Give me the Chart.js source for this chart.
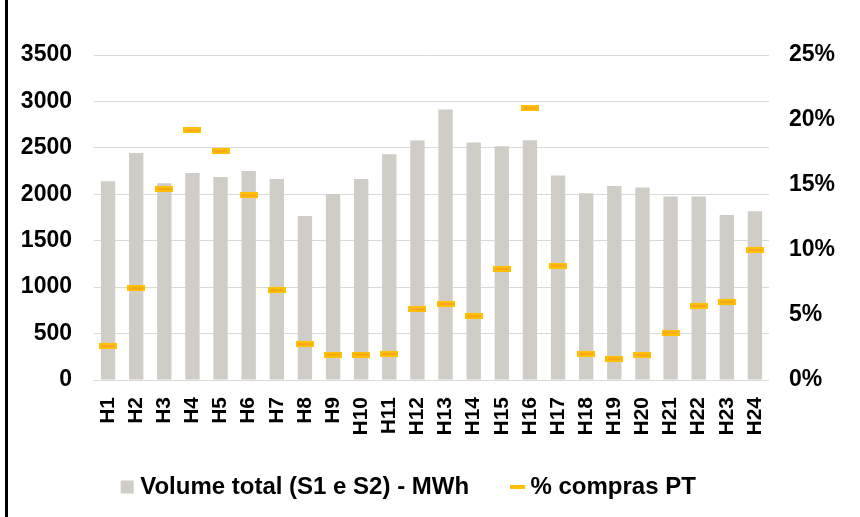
<!DOCTYPE html>
<html>
<head>
<meta charset="utf-8">
<script src="https://cdn.jsdelivr.net/npm/chart.js@4.4.1/dist/chart.umd.min.js"></script>
<style>
  html, body { margin: 0; padding: 0; background: #fff; }
  #wrap { position: relative; width: 860px; height: 517px; }
  #frame { position: absolute; left: 5px; top: 0; width: 3px; height: 517px; background: #000; }
</style>
</head>
<body>
<div id="wrap">
  <canvas id="chart" width="860" height="517"></canvas>
  <div id="frame"></div>
</div>
<script>
// hours
const hours = ['H1','H2','H3','H4','H5','H6','H7','H8','H9','H10','H11','H12',
               'H13','H14','H15','H16','H17','H18','H19','H20','H21','H22','H23','H24'];
// Volume total (S1 e S2) - MWh
const volume = [2140, 2445, 2118, 2228, 2185, 2250, 2164, 1765, 2002, 2164, 2430, 2580,
                2914, 2558, 2518, 2583, 2203, 2012, 2088, 2074, 1977, 1977, 1776, 1816];
// % compras PT
const comprasPT = [2.6, 7.05, 14.7, 19.2, 17.6, 14.2, 6.9, 2.75, 1.95, 1.95, 2.0, 5.45,
                   5.85, 4.9, 8.55, 20.9, 8.8, 2.0, 1.6, 1.9, 3.65, 5.7, 6.0, 10.0];
const volTicks = [0, 500, 1000, 1500, 2000, 2500, 3000, 3500];
const pctTicks = [0, 5, 10, 15, 20, 25];

const barColor = '#d0ccc6';
const yellow = '#ffc000';

// dash marker for the % series
function makeDash(w, h, inner) {
    const c = document.createElement('canvas');
    c.width = w; c.height = h;
    const g = c.getContext('2d');
    g.fillStyle = yellow;
    g.fillRect(0, 0, w, h);
    if (inner) {
        g.fillStyle = '#f08a3c';
        g.fillRect(2, Math.floor(h / 2) - 0.5, w - 4, 1);
    }
    return c;
}
const dash = makeDash(18, 6, true);
const legendDash = makeDash(15, 4, false);

// legend sits a bit left of centre in the original
const legendShift = {
    id: 'legendShift',
    afterLayout(chart) {
        if (chart.legend) chart.legend.right -= 38;
    }
};

Chart.defaults.font.family = '"Liberation Sans", Arial, sans-serif';
Chart.defaults.font.weight = 'bold';
Chart.defaults.color = '#000';

const ctx = document.getElementById('chart').getContext('2d');
const chart = new Chart(ctx, {
    type: 'bar',
    data: {
        labels: hours,
        datasets: [{
            label: 'Volume total (S1 e S2) - MWh',
            data: volume,
            backgroundColor: barColor,
            borderWidth: 0,
            barPercentage: 0.51,
            categoryPercentage: 1,
            yAxisID: 'y',
            order: 2
        }, {
            type: 'line',
            label: '% compras PT',
            data: comprasPT,
            showLine: false,
            pointStyle: dash,
            pointRadius: 9,
            yAxisID: 'y1',
            order: 1
        }]
    },
    plugins: [legendShift],
    options: {
        responsive: false,
        animation: false,
        events: [],
        layout: {
            padding: { top: 55, right: 0, bottom: 8, left: 0 }
        },
        plugins: {
            tooltip: { enabled: false },
            legend: {
                position: 'bottom',
                labels: {
                    usePointStyle: true,
                    boxWidth: 2,
                    boxHeight: 13,
                    padding: 34,
                    font: { size: 24, weight: 'bold' },
                    generateLabels: () => [{
                        text: 'Volume total (S1 e S2) - MWh  ',
                        fillStyle: barColor,
                        strokeStyle: barColor,
                        lineWidth: 0,
                        pointStyle: 'rect',
                        datasetIndex: 0,
                        hidden: false
                    }, {
                        text: '% compras PT',
                        fillStyle: yellow,
                        strokeStyle: yellow,
                        lineWidth: 0,
                        pointStyle: legendDash,
                        datasetIndex: 1,
                        hidden: false
                    }]
                }
            }
        },
        scales: {
            x: {
                grid: { display: false, drawTicks: false },
                border: { display: false },
                ticks: {
                    autoSkip: false,
                    minRotation: 90,
                    maxRotation: 90,
                    padding: 17,
                    font: { size: 21, weight: 'bold' }
                },
                afterFit: s => { s.height = 61; }
            },
            y: {
                position: 'left',
                min: 0,
                max: 3500,
                afterBuildTicks: s => { s.ticks = volTicks.map(v => ({ value: v })); },
                grid: { color: '#d9d9d9', lineWidth: 1, drawTicks: false },
                border: { display: false },
                ticks: {
                    padding: 22,
                    font: { size: 23, weight: 'bold' },
                    callback: v => String(v)
                },
                afterFit: s => { s.width = 94; }
            },
            y1: {
                position: 'right',
                min: 0,
                max: 25,
                afterBuildTicks: s => { s.ticks = pctTicks.map(v => ({ value: v })); },
                grid: { drawOnChartArea: false, drawTicks: false },
                border: { display: false },
                ticks: {
                    padding: 20,
                    font: { size: 23, weight: 'bold' },
                    callback: v => v + '%'
                },
                afterFit: s => { s.width = 91; }
            }
        }
    }
});
</script>
</body>
</html>
